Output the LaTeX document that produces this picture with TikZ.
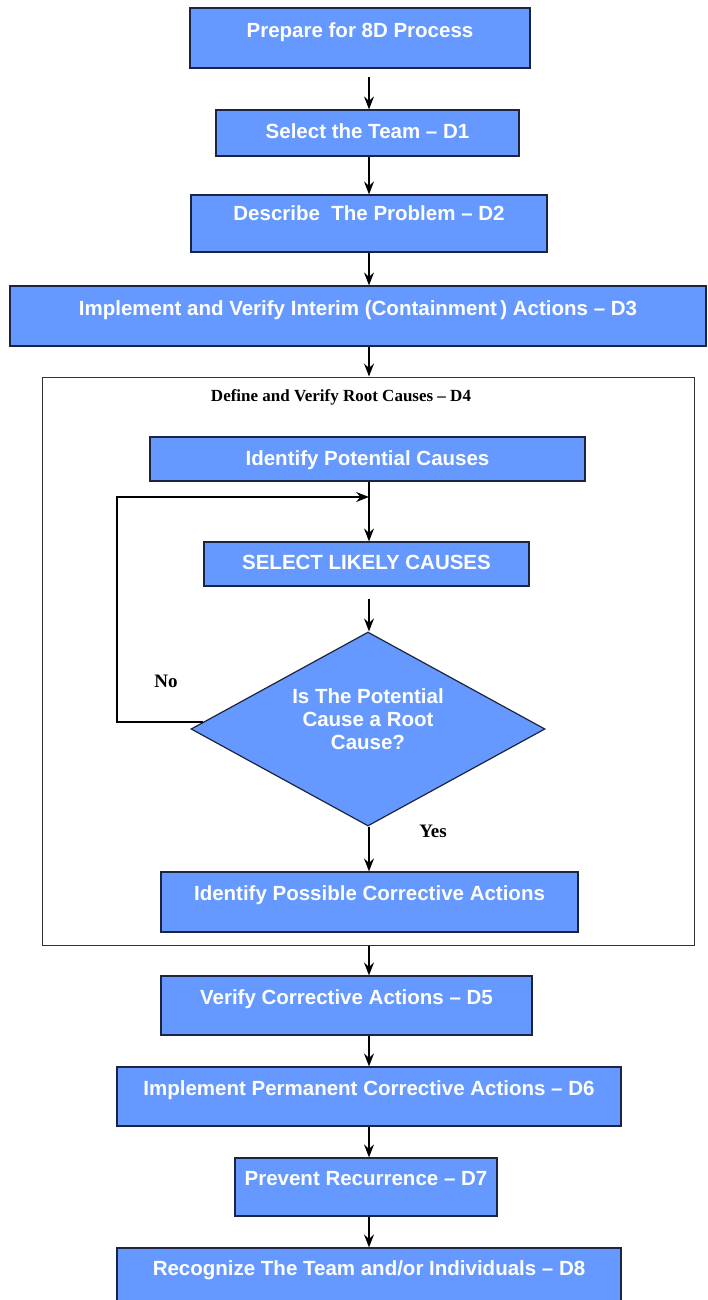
\documentclass[tikz,border=0pt]{standalone}
\usepackage{fontspec}
\usetikzlibrary{shapes.geometric, arrows.meta, positioning, calc}
\newfontfamily\boxfont{Liberation Sans}
\newfontfamily\capfont{Liberation Serif}
\definecolor{boxblue}{HTML}{6699FF}
\definecolor{boxline}{HTML}{1C2440}
\definecolor{frameline}{HTML}{333333}

\begin{document}
\begin{tikzpicture}[
    x=1pt, y=-1pt,
    >={Stealth[length=13pt,width=10pt,inset=4.5pt]},
    box/.style={draw=boxline, line width=1.2pt, fill=boxblue, text=white, inner sep=0pt, font=\boxfont\bfseries\fontsize{20.5}{23}\selectfont, text height=14.7pt, text depth=0pt},
    decide/.style={diamond, draw=boxline, line width=1.2pt, fill=boxblue, inner sep=0pt},
    frame/.style={draw=frameline, line width=1pt, inner sep=0pt},
    note/.style={font=\capfont\bfseries\fontsize{19}{21}\selectfont},
    flow/.style={->, line width=1.3pt}
  ]
    \fill[white] (0,0) rectangle (708,1300);
    \useasboundingbox (0,0) rectangle (708,1300);
    \coordinate (axis) at (369,0);

    \node[box, minimum width=340pt, minimum height=60pt, text depth=16pt] (prep) at (360,38) {Prepare for 8D Process};
    \node[box, minimum width=303pt, minimum height=46pt, text depth=4pt] (team) at (367.5,133) {Select the Team – D1};
    \node[box, minimum width=356pt, minimum height=57pt, text depth=21pt] (prob) at (369,223.5) {Describe\ \ The Problem – D2};
    \node[box, minimum width=696pt, minimum height=60pt, text depth=16pt] (contain) at (358,316) {Implement and Verify Interim (Containment\,) Actions – D3};

    % D4 frame
    \node[frame, minimum width=652pt, minimum height=568pt] (root) at (368,661) {};
    \node[note, font=\capfont\bfseries\fontsize{17}{19}\selectfont] (roottitle) at (341,397) {Define and Verify Root Causes – D4};
    \node[box, minimum width=435pt, minimum height=44pt, text depth=2pt] (pot) at (367.5,459) {Identify Potential Causes};
    \node[box, minimum width=325pt, minimum height=44pt, text depth=4pt] (likely) at (366.5,564) {SELECT LIKELY CAUSES};
    \node[decide, minimum width=354pt, minimum height=194pt] (dia) at (368,729) {};
    \node[text=white, align=center, font=\boxfont\bfseries\fontsize{20.5}{23}\selectfont] (diatext) at (368,719) {Is The Potential\\Cause a Root\\Cause?};
    \node[box, minimum width=417pt, minimum height=60pt, text depth=18pt] (poss) at (369.5,902) {Identify Possible Corrective Actions};
    \node[note] (no) at (166,681) {No};
    \node[note] (yes) at (433,831) {Yes};
    \coordinate (merge) at (369,497);
    \coordinate (loopx) at (117,600);

    \node[box, minimum width=371pt, minimum height=59pt, text depth=17pt] (verify) at (346.5,1005.5) {Verify Corrective Actions – D5};
    \node[box, minimum width=504pt, minimum height=59pt, text depth=17pt] (perm) at (369,1096.5) {Implement Permanent Corrective Actions – D6};
    \node[box, minimum width=262pt, minimum height=58pt, text depth=18pt] (prevent) at (366,1187) {Prevent Recurrence – D7};
    \node[box, minimum width=504pt, minimum height=60pt, text depth=20pt] (recog) at (369,1278) {Recognize The Team and/or Individuals – D8};

    \draw[flow, shorten <=8pt] (prep.south -| axis) -- (team.north -| axis);
    \draw[flow] (team.south -| axis) -- (prob.north -| axis);
    \draw[flow] (prob.south -| axis) -- (contain.north -| axis);
    \draw[flow] (contain.south -| axis) -- (root.north -| axis);
    \draw[flow] (pot.south -| axis) -- (likely.north -| axis);
    \draw[flow, shorten <=12pt] (likely.south -| axis) -- (dia.north -| axis);
    \draw[flow] (dia.south -| axis) -- (poss.north -| axis);
    \draw[flow] ([xshift=13pt,yshift=7pt]dia.west) -| (loopx) |- (merge);
    \draw[flow] (root.south -| axis) -- (verify.north -| axis);
    \draw[flow] (verify.south -| axis) -- (perm.north -| axis);
    \draw[flow] (perm.south -| axis) -- (prevent.north -| axis);
    \draw[flow] (prevent.south -| axis) -- (recog.north -| axis);
  \end{tikzpicture}
\end{document}
